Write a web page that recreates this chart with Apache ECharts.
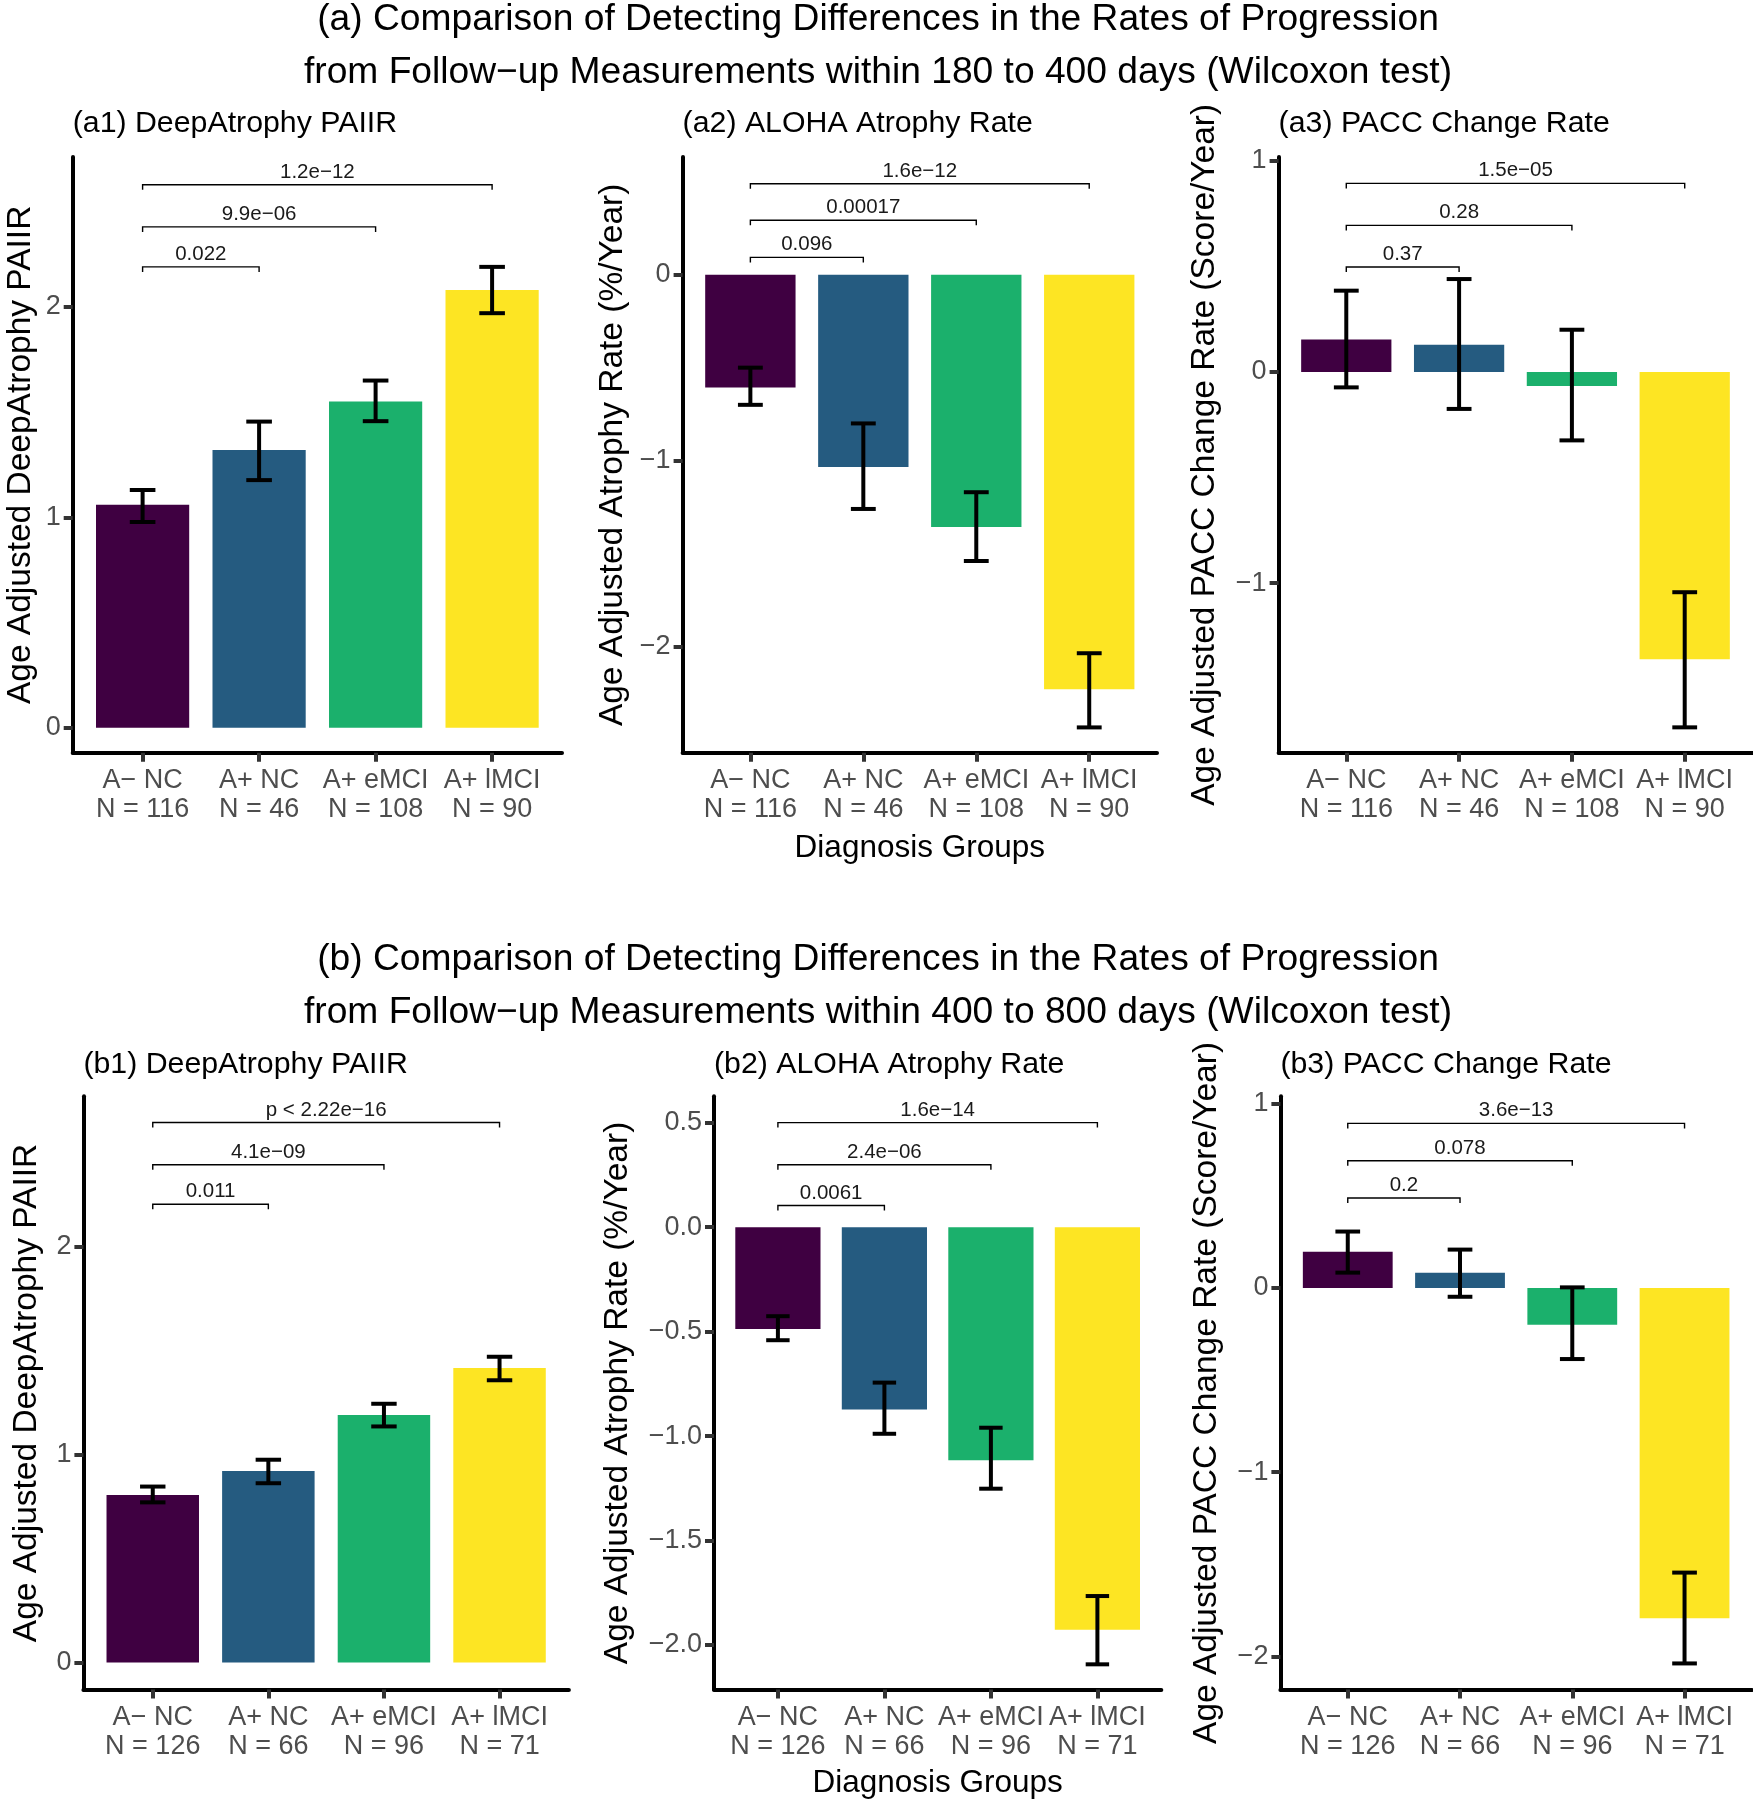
<!DOCTYPE html>
<html><head><meta charset="utf-8">
<script src="https://cdn.jsdelivr.net/npm/echarts@6/dist/echarts.min.js"></script>
<style>html,body{margin:0;padding:0;background:#fff}#c{width:1753px;height:1800px}</style>
</head><body><div id="c"></div>
<script>
// ---------------- data ----------------
const groups = ['A\u2212 NC', 'A+ NC', 'A+ eMCI', 'A+ lMCI'];
const nA = [116, 46, 108, 90];
const nB = [126, 66, 96, 71];
const xPos = [1, 2, 3, 4];
const bracketPairs = [[1, 2], [1, 3], [1, 4]];

// (a1) DeepAtrophy PAIIR, 180-400 days
const a1Mean = [1.06, 1.32, 1.55, 2.08];
const a1Lo   = [0.978, 1.177, 1.457, 1.97];
const a1Hi   = [1.13, 1.455, 1.65, 2.19];
const a1PLabels = ['0.022', '9.9e\u221206', '1.2e\u221212'];
const a1PY = [2.19, 2.38, 2.58];
const a1Ticks = [0, 1, 2];

// (a2) ALOHA Atrophy Rate
const a2Mean = [-0.607, -1.035, -1.357, -2.23];
const a2Lo   = [-0.70, -1.26, -1.54, -2.435];
const a2Hi   = [-0.50, -0.80, -1.17, -2.036];
const a2PLabels = ['0.096', '0.00017', '1.6e\u221212'];
const a2PY = [0.093, 0.293, 0.489];
const a2Ticks = [-2, -1, 0];

// (a3) PACC Change Rate
const a3Mean = [0.154, 0.129, -0.066, -1.36];
const a3Lo   = [-0.073, -0.175, -0.324, -1.683];
const a3Hi   = [0.385, 0.44, 0.20, -1.043];
const a3PLabels = ['0.37', '0.28', '1.5e\u221205'];
const a3PY = [0.497, 0.694, 0.893];
const a3Ticks = [-1, 0, 1];

// (b1) DeepAtrophy PAIIR, 400-800 days
const b1Mean = [0.806, 0.921, 1.19, 1.416];
const b1Lo   = [0.770, 0.862, 1.135, 1.357];
const b1Hi   = [0.846, 0.975, 1.244, 1.47];
const b1PLabels = ['0.011', '4.1e\u221209', 'p < 2.22e\u221216'];
const b1PY = [2.203, 2.393, 2.596];
const b1Ticks = [0, 1, 2];

// (b2) ALOHA Atrophy Rate
const b2Mean = [-0.487, -0.873, -1.116, -1.928];
const b2Lo   = [-0.541, -0.989, -1.252, -2.093];
const b2Hi   = [-0.426, -0.744, -0.96, -1.766];
const b2PLabels = ['0.0061', '2.4e\u221206', '1.6e\u221214'];
const b2PY = [0.104, 0.299, 0.501];
const b2Ticks = [-2, -1.5, -1, -0.5, 0, 0.5];

// (b3) PACC Change Rate
const b3Mean = [0.197, 0.083, -0.2, -1.793];
const b3Lo   = [0.083, -0.048, -0.386, -2.038];
const b3Hi   = [0.306, 0.208, 0.003, -1.545];
const b3PLabels = ['0.2', '0.078', '3.6e\u221213'];
const b3PY = [0.488, 0.69, 0.893];
const b3Ticks = [-2, -1, 0, 1];

const titleA = ['(a) Comparison of Detecting Differences in the Rates of Progression',
                'from Follow\u2212up Measurements within 180 to 400 days (Wilcoxon test)'];
const titleB = ['(b) Comparison of Detecting Differences in the Rates of Progression',
                'from Follow\u2212up Measurements within 400 to 800 days (Wilcoxon test)'];
const xTitle = 'Diagnosis Groups';

// ---------------- styling / layout ----------------
const FONT = '"Liberation Sans", Arial, Helvetica, sans-serif';
const colors = ['#3f0041', '#255b80', '#1bb06c', '#fde523'];

const panels = [
  {grid:{left:72.7, top:157, width:489.3, height:595.7}, yMin:-0.118, yMax:2.712, ticks:a1Ticks, dec:0,
   mean:a1Mean, lo:a1Lo, hi:a1Hi, pLab:a1PLabels, pY:a1PY, n:nA,
   sub:'(a1) DeepAtrophy PAIIR', ytitle:'Age Adjusted DeepAtrophy PAIIR', ytx:21},
  {grid:{left:682.6, top:157, width:474.4, height:595.7}, yMin:-2.571, yMax:0.633, ticks:a2Ticks, dec:0,
   mean:a2Mean, lo:a2Lo, hi:a2Hi, pLab:a2PLabels, pY:a2PY, n:nA,
   sub:'(a2) ALOHA Atrophy Rate', ytitle:'Age Adjusted Atrophy Rate (%/Year)', ytx:612.5},
  {grid:{left:1278.6, top:157, width:473.8, height:595.7}, yMin:-1.803, yMax:1.018, ticks:a3Ticks, dec:0,
   mean:a3Mean, lo:a3Lo, hi:a3Hi, pLab:a3PLabels, pY:a3PY, n:nA,
   sub:'(a3) PACC Change Rate', ytitle:'Age Adjusted PACC Change Rate (Score/Year)', ytx:1205},
  {grid:{left:83.4, top:1096.3, width:485.5, height:593.3}, yMin:-0.13, yMax:2.722, ticks:b1Ticks, dec:0,
   mean:b1Mean, lo:b1Lo, hi:b1Hi, pLab:b1PLabels, pY:b1PY, n:nB,
   sub:'(b1) DeepAtrophy PAIIR', ytitle:'Age Adjusted DeepAtrophy PAIIR', ytx:26.8},
  {grid:{left:714, top:1096.3, width:447.3, height:593.3}, yMin:-2.214, yMax:0.627, ticks:b2Ticks, dec:1,
   mean:b2Mean, lo:b2Lo, hi:b2Hi, pLab:b2PLabels, pY:b2PY, n:nB,
   sub:'(b2) ALOHA Atrophy Rate', ytitle:'Age Adjusted Atrophy Rate (%/Year)', ytx:618},
  {grid:{left:1280.4, top:1096.3, width:471.5, height:593.3}, yMin:-2.18, yMax:1.04, ticks:b3Ticks, dec:0,
   mean:b3Mean, lo:b3Lo, hi:b3Hi, pLab:b3PLabels, pY:b3PY, n:nB,
   sub:'(b3) PACC Change Rate', ytitle:'Age Adjusted PACC Change Rate (Score/Year)', ytx:1207}
];

const grids = [], xAxes = [], yAxes = [], series = [], graphics = [];

function fmtY(dec) {
  return function (v) {
    const s = Math.abs(v).toFixed(dec);
    return (v < 0 && Math.abs(v) > 1e-9 ? '\u2212' : '') + s;
  };
}

panels.forEach(function (p, i) {
  grids.push(Object.assign({containLabel:false}, p.grid));
  const catLabels = groups.map(function (g, k) { return g + '\nN = ' + p.n[k]; });
  xAxes.push({
    type:'value', gridIndex:i, min:0.4, max:4.6,
    splitLine:{show:false},
    axisLine:{show:true, onZero:false, lineStyle:{color:'#000', width:4}},
    axisTick:{show:true, customValues:xPos, length:9, lineStyle:{color:'#333', width:4}},
    axisLabel:{show:true, customValues:xPos, margin:13, color:'#4d4d4d', fontSize:27, lineHeight:29,
      fontFamily:FONT, formatter:function (v) { return catLabels[Math.round(v) - 1]; }}
  });
  yAxes.push({
    type:'value', gridIndex:i, min:p.yMin, max:p.yMax,
    splitLine:{show:false},
    axisLine:{show:true, onZero:false, lineStyle:{color:'#000', width:4}},
    axisTick:{show:true, customValues:p.ticks, length:9, lineStyle:{color:'#333', width:4}},
    axisLabel:{show:true, customValues:p.ticks, margin:12, color:'#4d4d4d', fontSize:27,
      fontFamily:FONT, formatter:fmtY(p.dec)}
  });

  const barData = xPos.map(function (x, k) { return [x, p.mean[k], p.lo[k], p.hi[k]]; });
  series.push({
    type:'custom', xAxisIndex:i, yAxisIndex:i, data:barData, silent:true, clip:false,
    renderItem:function (params, api) {
      const x = api.value(0), m = api.value(1), lo = api.value(2), hi = api.value(3);
      const a = api.coord([x - 0.4, 0]), b = api.coord([x + 0.4, m]);
      const t = api.coord([x, hi]), d = api.coord([x, lo]);
      const cw = api.size([0.11, 0])[0];
      const es = {stroke:'#000', lineWidth:4};
      return {type:'group', children:[
        {type:'rect', shape:{x:a[0], y:Math.min(a[1], b[1]), width:b[0] - a[0], height:Math.abs(a[1] - b[1])},
         style:{fill:colors[params.dataIndex]}},
        {type:'line', shape:{x1:t[0], y1:t[1], x2:d[0], y2:d[1]}, style:es},
        {type:'line', shape:{x1:t[0] - cw, y1:t[1], x2:t[0] + cw, y2:t[1]}, style:es},
        {type:'line', shape:{x1:d[0] - cw, y1:d[1], x2:d[0] + cw, y2:d[1]}, style:es}
      ]};
    }
  });

  const brData = bracketPairs.map(function (pr, k) { return [pr[0], pr[1], p.pY[k]]; });
  const labs = p.pLab;
  series.push({
    type:'custom', xAxisIndex:i, yAxisIndex:i, data:brData, silent:true, clip:false,
    renderItem:function (params, api) {
      const p1 = api.coord([api.value(0), api.value(2)]);
      const p2 = api.coord([api.value(1), api.value(2)]);
      return {type:'group', children:[
        {type:'polyline', shape:{points:[[p1[0], p1[1] + 5], [p1[0], p1[1]], [p2[0], p2[1]], [p2[0], p2[1] + 5]]},
         style:{stroke:'#000', lineWidth:1.4, fill:null}},
        {type:'text', x:(p1[0] + p2[0]) / 2, y:p1[1] - 12.6,
         style:{text:labs[params.dataIndex], fontSize:20.5, fontFamily:FONT, fill:'#1a1a1a',
                align:'center', verticalAlign:'middle'}}
      ]};
    }
  });

  graphics.push({type:'text', x:p.grid.left, y:(i < 3 ? 123.3 : 1064.3),
    style:{text:p.sub, fontSize:30.3, fontFamily:FONT, fill:'#000', align:'left', verticalAlign:'middle'}});
  graphics.push({type:'text', x:p.ytx, y:p.grid.top + p.grid.height / 2, rotation:Math.PI / 2,
    style:{text:p.ytitle, fontSize:33.5, fontFamily:FONT, fill:'#000', align:'center', verticalAlign:'middle'}});
});

[[titleA, 20, 72.5], [titleB, 959.3, 1012.8]].forEach(function (t) {
  graphics.push({type:'text', x:878, y:t[1], style:{text:t[0][0], fontSize:37.2, fontFamily:FONT, fill:'#000', align:'center', verticalAlign:'middle'}});
  graphics.push({type:'text', x:878, y:t[2], style:{text:t[0][1], fontSize:37.2, fontFamily:FONT, fill:'#000', align:'center', verticalAlign:'middle'}});
});
graphics.push({type:'text', x:panels[1].grid.left + panels[1].grid.width / 2, y:848.3,
  style:{text:xTitle, fontSize:31.5, fontFamily:FONT, fill:'#000', align:'center', verticalAlign:'middle'}});
graphics.push({type:'text', x:panels[4].grid.left + panels[4].grid.width / 2, y:1783.8,
  style:{text:xTitle, fontSize:31.5, fontFamily:FONT, fill:'#000', align:'center', verticalAlign:'middle'}});

const chart = echarts.init(document.getElementById('c'), null, {renderer:'canvas'});
chart.setOption({
  animation:false,
  backgroundColor:'#ffffff',
  textStyle:{fontFamily:FONT},
  grid:grids, xAxis:xAxes, yAxis:yAxes, series:series, graphic:graphics
});
</script>
</body></html>
